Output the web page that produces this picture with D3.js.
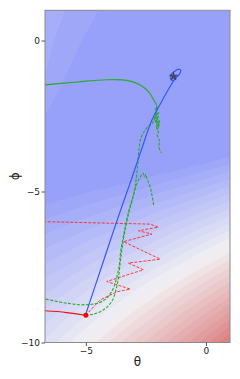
<!DOCTYPE html>
<html lang="en">
<head>
<meta charset="utf-8">
<title>theta phi paths</title>
<script src="https://cdn.jsdelivr.net/npm/d3@7"></script>
<style>
  body { margin: 0; background: #fff; }
  text { font-family: "DejaVu Sans", sans-serif; }
</style>
</head>
<body>
<div id="chart"></div>
<script>
// surface (row = phi, col = theta)
var gridTheta = [-7, -6, -5, -4, -3, -2, -1, 0, 1];
var gridPhi = [1, 0, -1, -2, -3, -4, -5, -6, -7, -8, -9, -10];
var levels = [
  [2.8, 2.1, 1.45, 0.6, -0.2, -1.0, -1.8, -2.6, -3.4],
  [2.5, 1.75, 0.85, 0.0, -0.8, -1.6, -2.4, -3.2, -4.0],
  [2.4, 1.25, 0.25, -0.6, -1.4, -2.2, -3.0, -3.8, -4.6],
  [1.55, 0.7, -0.3, -1.1, -1.9, -2.7, -3.5, -4.3, -5.1],
  [0.9, 0.1, -0.9, -1.7, -2.5, -3.3, -3.5, -3.1, -2.5],
  [0.3, -0.5, -1.6, -1.4, -1.0, -0.5, 0.1, 0.8, 1.6],
  [0.1, 0.4, 0.9, 1.4, 2.0, 2.8, 3.6, 4.6, 5.7],
  [2.0, 2.6, 3.3, 4.1, 5.0, 6.1, 7.2, 8.4, 9.8],
  [4.0, 4.8, 5.8, 6.9, 8.0, 9.3, 10.7, 12.3, 13.9],
  [5.9, 7.0, 8.2, 9.6, 11.1, 12.6, 14.3, 16.1, 18.0],
  [7.8, 9.2, 10.7, 12.3, 14.1, 15.9, 17.9, 19.9, 22.1],
  [9.7, 11.4, 13.2, 15.1, 17.1, 19.2, 21.4, 23.7, 26.2]
];

var start = [-5.0, -9.1];
var optimum = [-1.35, -1.19];

// blue solid
var bluePath = [[-5.02, -9.10], [-4.11, -6.93], [-3.65, -5.84], [-3.14, -4.68], [-2.70, -3.65],
  [-2.25, -2.63], [-1.90, -2.10], [-1.57, -1.63], [-1.29, -1.27], [-1.09, -1.10], [-1.05, -0.99],
  [-1.13, -0.95], [-1.30, -1.02], [-1.47, -1.15], [-1.47, -1.28], [-1.34, -1.32], [-1.24, -1.24]];

// red solid / red dashed
var redPath = [[-7.0, -8.94], [-6.70, -8.95], [-5.79, -9.01], [-5.02, -9.10]];
var redDashPath = [[-5.02, -9.10], [-4.40, -8.59], [-3.70, -8.32], [-3.15, -8.23], [-4.13, -7.98],
  [-2.60, -7.59], [-3.23, -7.37], [-1.90, -7.24], [-3.43, -6.66], [-2.25, -6.41], [-2.81, -6.30],
  [-1.98, -6.18], [-2.32, -6.08], [-6.70, -6.00], [-7.0, -6.0]];

// green solid
var greenPath = [[-6.85, -1.48], [-6.70, -1.47], [-5.45, -1.38], [-4.13, -1.30], [-3.29, -1.32],
  [-2.74, -1.47], [-2.39, -1.69], [-2.18, -1.96], [-2.04, -2.19], [-2.12, -2.30], [-2.00, -2.22],
  [-2.10, -2.45], [-1.96, -2.38], [-2.15, -2.58], [-1.98, -2.52], [-2.08, -2.70], [-1.92, -2.66],
  [-2.05, -2.85], [-1.95, -2.78], [-2.02, -2.95]];

// green dashed, two runs
var greenDashA = [[-6.85, -8.55], [-6.70, -8.56], [-5.79, -8.70], [-4.96, -8.75], [-4.33, -8.64],
  [-3.92, -8.31], [-3.64, -7.59], [-3.54, -6.93], [-3.40, -6.33], [-3.22, -5.67], [-3.02, -5.11],
  [-2.86, -4.71], [-2.72, -4.50], [-2.62, -4.40], [-2.55, -4.52], [-2.50, -4.44], [-2.46, -4.56],
  [-2.34, -4.81], [-2.25, -5.11], [-2.17, -5.51]];
var greenDashB = [[-5.02, -9.10], [-4.68, -9.06], [-4.27, -8.92], [-3.92, -8.64], [-3.68, -8.03],
  [-3.57, -7.37], [-3.50, -6.93], [-3.38, -6.33], [-3.20, -5.67], [-3.01, -5.11], [-2.91, -4.61],
  [-2.84, -4.12], [-2.80, -3.69], [-2.70, -3.22], [-2.53, -2.96], [-2.36, -2.82], [-2.24, -2.76],
  [-2.15, -2.60], [-2.08, -2.72], [-2.12, -2.50], [-2.02, -2.62], [-2.06, -2.90], [-1.98, -3.05],
  [-2.03, -3.15], [-1.92, -3.35], [-1.97, -3.50], [-1.86, -3.72]];

var xTicks = [-5, 0];
var yTicks = [0, -5, -10];

var width = 240, height = 379;
var padL = 45, padR = 230, padT = 10.3, padB = 342.5;

var svg = d3.select("#chart").append("svg")
  .attr("width", width)
  .attr("height", height);

var x = d3.scaleLinear().domain([-6.7, 1.0]).range([padL, padR]);
var y = d3.scaleLinear().domain([-10, 1]).range([padB, padT]);

// band colours, blue -> white -> red, washed out
var color = d3.scaleLinear()
  .domain([0, 13, 29])
  .range(["#949efa", "#f2f0f3", "#d76464"]);

svg.append("clipPath").attr("id", "plotclip")
  .append("rect")
  .attr("x", padL).attr("y", padT)
  .attr("width", padR - padL).attr("height", padB - padT);

var plot = svg.append("g").attr("clip-path", "url(#plotclip)");

plot.append("rect")
  .attr("x", padL).attr("y", padT)
  .attr("width", padR - padL).attr("height", padB - padT)
  .attr("fill", color(0.5));

var nx = gridTheta.length, ny = gridPhi.length;
var stepX = gridTheta[1] - gridTheta[0], stepY = gridPhi[1] - gridPhi[0];
var toScreen = d3.geoTransform({
  point: function(cx, cy) {
    this.stream.point(x(gridTheta[0] + (cx - 0.5) * stepX), y(gridPhi[0] + (cy - 0.5) * stepY));
  }
});
var contourPath = d3.geoPath(toScreen);

var bands = d3.contours()
  .size([nx, ny])
  .thresholds(d3.range(1, 30))(levels.flat());

plot.selectAll("path.band")
  .data(bands)
  .enter().append("path")
  .attr("class", "band")
  .attr("d", contourPath)
  .attr("fill", function(d) { return color(d.value + 0.5); });

// trajectories
var smooth = d3.line()
  .x(function(d) { return x(d[0]); })
  .y(function(d) { return y(d[1]); })
  .curve(d3.curveCatmullRom.alpha(0.5));
var straight = d3.line()
  .x(function(d) { return x(d[0]); })
  .y(function(d) { return y(d[1]); });

plot.append("path").attr("d", straight(redDashPath))
  .attr("fill", "none").attr("stroke", "#ff2020").attr("stroke-width", 1)
  .attr("stroke-dasharray", "3,1.5").attr("opacity", 0.85);
plot.append("path").attr("d", smooth(redPath))
  .attr("fill", "none").attr("stroke", "#f01010").attr("stroke-width", 1.1);

var green = "#26ab26";
plot.append("path").attr("d", smooth(greenDashA))
  .attr("fill", "none").attr("stroke", green).attr("stroke-width", 1.1)
  .attr("stroke-dasharray", "3,1.5");
plot.append("path").attr("d", smooth(greenDashB))
  .attr("fill", "none").attr("stroke", green).attr("stroke-width", 1.1)
  .attr("stroke-dasharray", "3,1.5");
plot.append("path").attr("d", smooth(greenPath))
  .attr("fill", "none").attr("stroke", green).attr("stroke-width", 1.1);

plot.append("path").attr("d", smooth(bluePath))
  .attr("fill", "none").attr("stroke", "#3356ff").attr("stroke-width", 1.2);

plot.append("circle")
  .attr("cx", x(start[0])).attr("cy", y(start[1])).attr("r", 2.5)
  .attr("fill", "#ff0000");

plot.append("path")
  .attr("d", d3.symbol(d3.symbolStar, 30)())
  .attr("transform", "translate(" + x(optimum[0]) + "," + y(optimum[1]) + ")")
  .attr("fill", "#333").attr("opacity", 0.8);

// frame
svg.append("rect")
  .attr("x", padL).attr("y", padT)
  .attr("width", padR - padL).attr("height", padB - padT)
  .attr("fill", "none").attr("stroke", "#8a8a8a").attr("stroke-width", 1);

// axes
var xAxis = svg.append("g")
  .attr("transform", "translate(0," + padB + ")")
  .call(d3.axisBottom(x).tickValues(xTicks).tickSize(3.5).tickPadding(1.5));
var yAxis = svg.append("g")
  .attr("transform", "translate(" + padL + ",0)")
  .call(d3.axisLeft(y).tickValues(yTicks).tickSize(3.5).tickPadding(1.5));

[xAxis, yAxis].forEach(function(ax) {
  ax.select(".domain").remove();
  ax.selectAll("line").attr("stroke", "#555");
  ax.selectAll("text").attr("font-size", 9).attr("fill", "#222")
    .attr("font-family", "DejaVu Sans, sans-serif");
});

svg.append("text")
  .attr("x", (padL + padR) / 2).attr("y", 366)
  .attr("text-anchor", "middle")
  .attr("font-size", 12).attr("fill", "#222")
  .text("θ");

svg.append("text")
  .attr("transform", "translate(19," + ((padT + padB) / 2) + ") rotate(-90)")
  .attr("text-anchor", "middle")
  .attr("font-size", 12).attr("fill", "#222")
  .text("ϕ");
</script>
</body>
</html>
